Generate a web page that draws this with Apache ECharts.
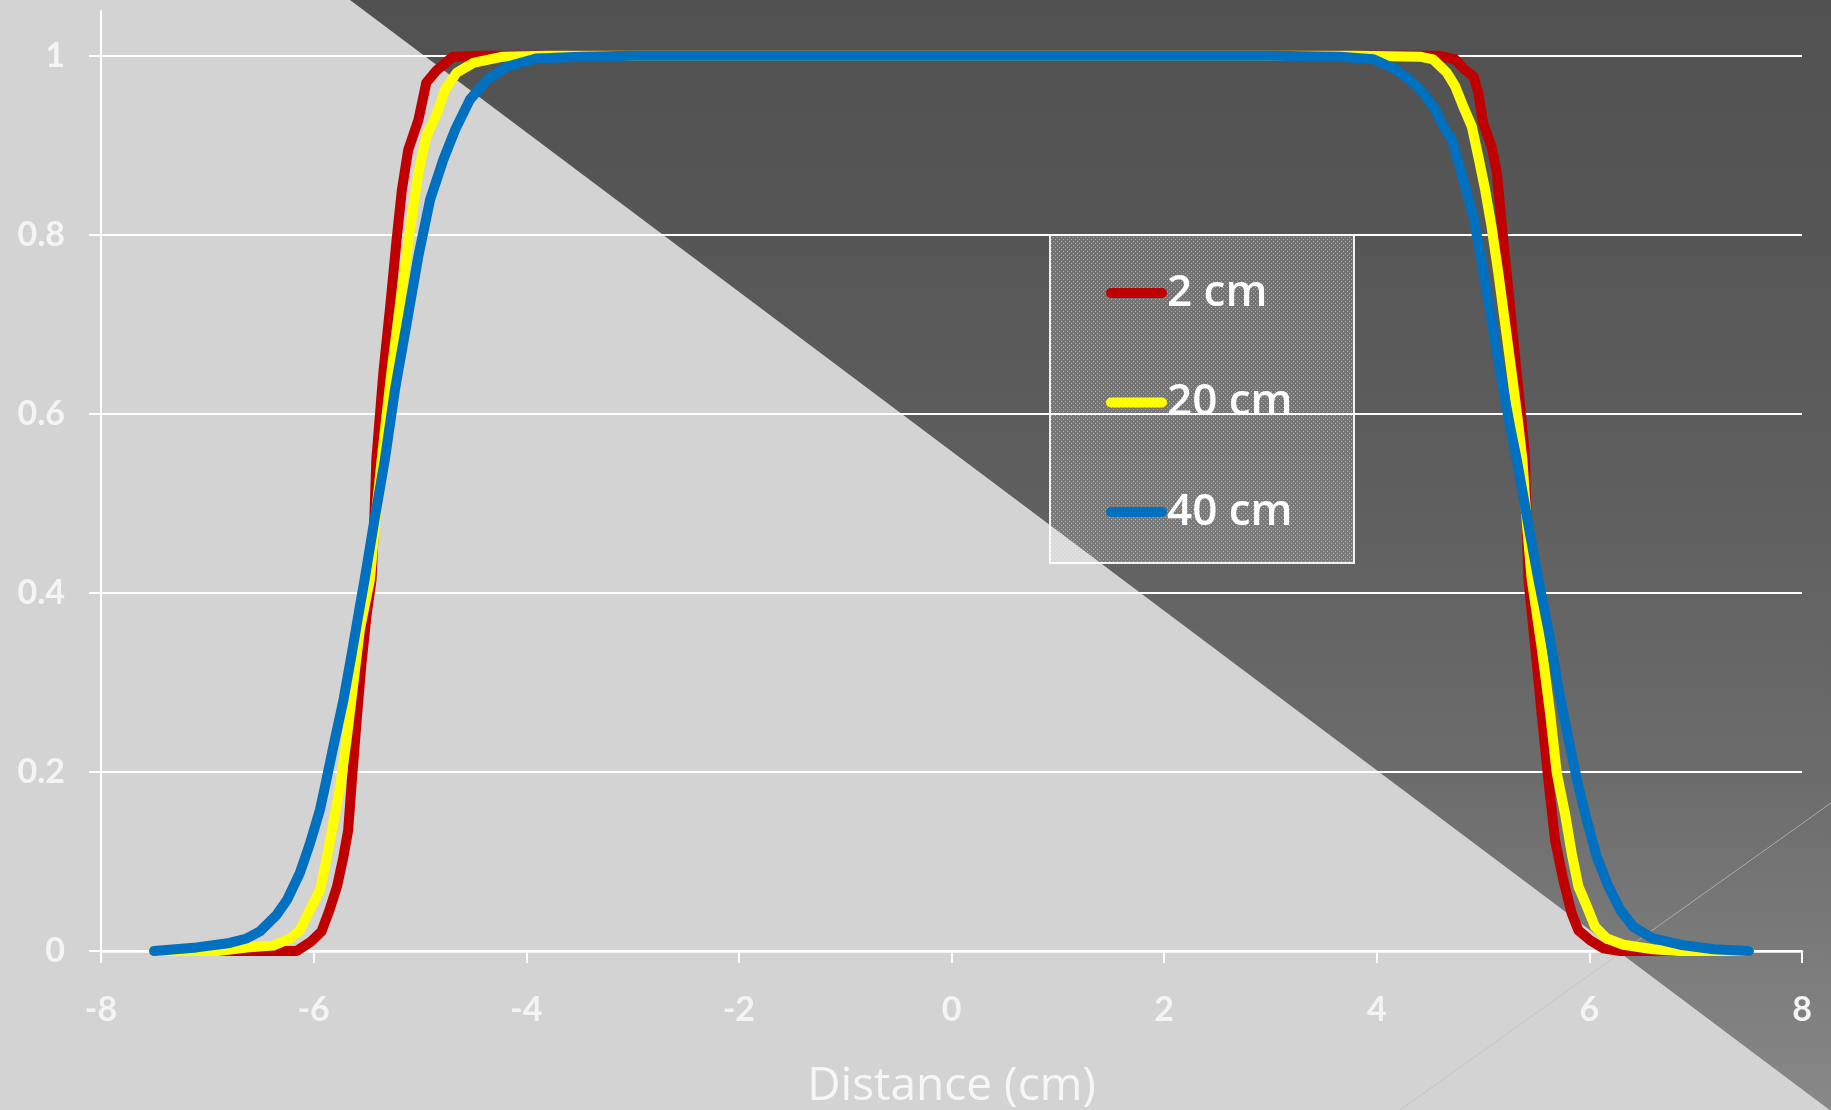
<!DOCTYPE html>
<html>
<head>
<meta charset="utf-8">
<title>Beam profile</title>
<script src="https://cdn.jsdelivr.net/npm/echarts@6/dist/echarts.min.js"></script>
<style>
  html, body { margin: 0; padding: 0; background: #d3d3d3; }
  #chart { width: 1831px; height: 1110px; }
</style>
</head>
<body>
<div id="chart"></div>
<script>
// Lateral dose profiles at three depths (relative dose vs off-axis distance)
const seriesNames = ['2 cm', '20 cm', '40 cm'];
const seriesColors = ['#C00000', '#FFFF00', '#0070C0'];

const redX = [-7.5, -6.5, -6.16, -6.03, -5.925, -5.85, -5.78, -5.72, -5.675, -5.64, -5.595, -5.55, -5.50, -5.455, -5.43, -5.41, -5.345, -5.28, -5.22, -5.17, -5.11, -5.015, -4.94, -4.84, -4.69, -4.44, -3, -1, 0, 1, 3, 4.3, 4.595, 4.737, 4.83, 4.91, 4.956, 5.00, 5.08, 5.13, 5.16, 5.19, 5.254, 5.317, 5.38, 5.395, 5.41, 5.426, 5.49, 5.55, 5.614, 5.677, 5.755, 5.834, 5.897, 6.007, 6.13, 6.29, 7.5];
const redY = [0, 0, 0, 0.010, 0.022, 0.046, 0.072, 0.105, 0.135, 0.191, 0.258, 0.321, 0.377, 0.415, 0.48, 0.549, 0.645, 0.720, 0.794, 0.850, 0.895, 0.928, 0.970, 0.984, 0.999, 1, 1, 1, 1, 1, 1, 1, 1, 0.996, 0.984, 0.977, 0.958, 0.925, 0.899, 0.869, 0.832, 0.794, 0.720, 0.645, 0.571, 0.549, 0.48, 0.415, 0.340, 0.266, 0.191, 0.124, 0.079, 0.042, 0.023, 0.012, 0.003, 0, 0];

const yellowX = [-7.5, -6.9, -6.63, -6.38, -6.22, -6.13, -6.035, -5.94, -5.88, -5.815, -5.75, -5.69, -5.63, -5.565, -5.47, -5.42, -5.36, -5.27, -5.17, -5.09, -5.015, -4.94, -4.84, -4.765, -4.655, -4.50, -4.22, -3.8, -1, 0, 1, 3.8, 4.407, 4.53, 4.66, 4.737, 4.815, 4.894, 4.956, 5.02, 5.08, 5.144, 5.207, 5.27, 5.33, 5.37, 5.41, 5.458, 5.55, 5.63, 5.693, 5.77, 5.834, 5.897, 5.976, 6.054, 6.164, 6.32, 6.60, 6.85, 7.5];
const yellowY = [0, 0, 0.004, 0.006, 0.014, 0.023, 0.046, 0.068, 0.102, 0.143, 0.184, 0.236, 0.295, 0.359, 0.415, 0.48, 0.549, 0.645, 0.739, 0.809, 0.869, 0.910, 0.936, 0.962, 0.981, 0.992, 0.999, 1, 1, 1, 1, 1, 0.999, 0.996, 0.981, 0.966, 0.943, 0.921, 0.887, 0.850, 0.809, 0.757, 0.701, 0.645, 0.590, 0.549, 0.48, 0.415, 0.340, 0.266, 0.199, 0.154, 0.109, 0.072, 0.050, 0.027, 0.014, 0.007, 0.002, 0, 0];

const blueX = [-7.5, -7.10, -6.79, -6.63, -6.505, -6.35, -6.25, -6.13, -6.035, -5.94, -5.88, -5.815, -5.72, -5.64, -5.565, -5.52, -5.43, -5.33, -5.235, -5.125, -5.015, -4.905, -4.78, -4.67, -4.53, -4.37, -4.18, -3.90, -3.49, -3.0, -1, 0, 1, 3.0, 3.655, 3.97, 4.156, 4.313, 4.44, 4.55, 4.627, 4.705, 4.77, 4.83, 4.91, 4.97, 5.035, 5.11, 5.19, 5.254, 5.317, 5.42, 5.52, 5.614, 5.724, 5.818, 5.897, 5.976, 6.07, 6.18, 6.29, 6.414, 6.60, 6.853, 7.17, 7.5];
const blueY = [0, 0.004, 0.009, 0.014, 0.022, 0.040, 0.057, 0.087, 0.120, 0.158, 0.191, 0.228, 0.280, 0.333, 0.385, 0.415, 0.48, 0.549, 0.627, 0.701, 0.776, 0.839, 0.884, 0.917, 0.951, 0.973, 0.988, 0.997, 0.999, 1, 1, 1, 1, 1, 0.999, 0.996, 0.986, 0.973, 0.958, 0.940, 0.921, 0.906, 0.880, 0.854, 0.820, 0.780, 0.735, 0.683, 0.627, 0.586, 0.549, 0.48, 0.415, 0.359, 0.284, 0.228, 0.184, 0.146, 0.105, 0.072, 0.046, 0.027, 0.014, 0.007, 0.002, 0];

const yTicks = [0, 0.2, 0.4, 0.6, 0.8, 1];
const xAxisTitle = 'Distance (cm)';

const zip = (xs, ys) => xs.map((x, i) => [x, ys[i]]);
const profiles = [zip(redX, redY), zip(yellowX, yellowY), zip(blueX, blueY)];

// fine dotted texture for the legend panel
const dots = document.createElement('canvas');
dots.width = 4; dots.height = 4;
const dctx = dots.getContext('2d');
dctx.fillStyle = 'rgba(255,255,255,0.16)';
dctx.fillRect(0, 0, 4, 4);
dctx.fillStyle = 'rgba(255,255,255,0.42)';
dctx.fillRect(1, 1, 1, 1);
dctx.fillRect(3, 3, 1, 1);

const W = 1831, H = 1110;
const chart = echarts.init(document.getElementById('chart'), null, { renderer: 'canvas', width: W, height: H });

const labelFont = { color: '#f4f4f4', fontFamily: 'Lato', fontWeight: 'bold', fontSize: 34 };

chart.setOption({
  backgroundColor: '#d3d3d3',
  animation: false,
  graphic: [
    {
      type: 'polygon', z: -20, silent: true,
      shape: { points: [[350, 0], [W, 0], [W, H + 1]] },
      style: {
        fill: new echarts.graphic.LinearGradient(0, 0, 0, 1, [
          { offset: 0, color: '#515151' },
          { offset: 0.2, color: '#565656' },
          { offset: 0.4, color: '#5d5d5d' },
          { offset: 0.55, color: '#646464' },
          { offset: 0.7, color: '#6c6c6c' },
          { offset: 0.85, color: '#7a7a7a' },
          { offset: 1, color: '#888888' }
        ])
      }
    },
    {
      type: 'line', z: -19, silent: true,
      shape: { x1: 1400, y1: H, x2: W, y2: 803 },
      style: { stroke: 'rgba(190,190,190,0.75)', lineWidth: 1 }
    },
    {
      type: 'rect', z: 3, silent: true,
      shape: { x: 1050, y: 235, width: 304, height: 328 },
      style: { fill: { image: dots, repeat: 'repeat' }, stroke: 'rgba(255,255,255,0.9)', lineWidth: 2 }
    }
  ],
  grid: { left: 101, right: 29, top: 11, bottom: 159, containLabel: false, outerBoundsMode: 'none' },
  legend: {
    orient: 'vertical',
    left: 1106,
    top: 271,
    padding: 0,
    itemWidth: 51,
    itemHeight: 12,
    itemGap: 65.5,
    data: seriesNames,
    lineStyle: { width: 10, cap: 'round' },
    textStyle: { color: '#ffffff', fontFamily: 'Open Sans', fontWeight: 600, fontSize: 44, lineHeight: 44 },
    selectedMode: false
  },
  xAxis: {
    type: 'value',
    min: -8, max: 8, interval: 2,
    name: xAxisTitle,
    nameLocation: 'middle',
    nameGap: 113,
    nameTextStyle: { color: '#f6f6f6', fontFamily: 'Open Sans', fontSize: 46, fontWeight: 400 },
    axisLine: { show: true, onZero: false, lineStyle: { color: '#ffffff', width: 2.5 } },
    axisTick: { show: true, length: 12, inside: false, lineStyle: { color: '#ffffff', width: 2 } },
    axisLabel: Object.assign({ margin: 42 }, labelFont),
    splitLine: { show: false }
  },
  yAxis: {
    type: 'value',
    min: 0, max: 1.05, interval: 0.2,
    axisLine: { show: true, onZero: false, lineStyle: { color: '#ffffff', width: 2 } },
    axisTick: { show: true, length: 12, inside: false, customValues: yTicks, lineStyle: { color: '#ffffff', width: 2 } },
    axisLabel: Object.assign({ margin: 36, customValues: yTicks }, labelFont),
    splitLine: { show: true, lineStyle: { color: '#ffffff', width: 2 } }
  },
  series: profiles.map((data, i) => ({
    name: seriesNames[i],
    type: 'line',
    data: data,
    symbol: 'none',
    smooth: false,
    clip: false,
    z: 5 + i,
    color: seriesColors[i],
    lineStyle: { color: seriesColors[i], width: 10, cap: 'round', join: 'round' }
  }))
});
</script>
</body>
</html>
